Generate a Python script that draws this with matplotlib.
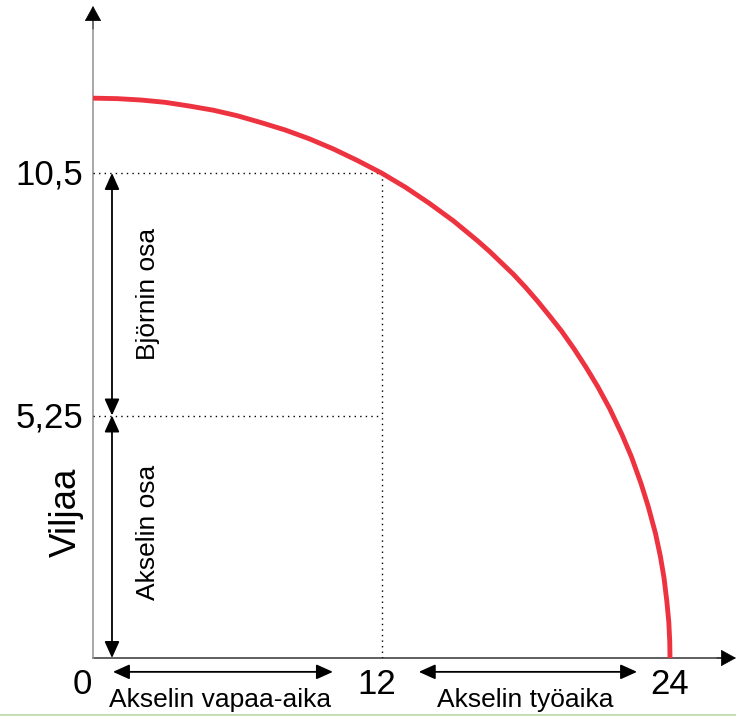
"""Production possibility curve: Akselin vapaa-aika / työaika vs. viljaa."""

import matplotlib

matplotlib.use("Agg")

import matplotlib.pyplot as plt
from matplotlib.lines import Line2D

# Curve (hours of work time, grain)
curve_x = [0, 1, 2, 3, 4, 5, 6, 7, 8, 9, 10, 11, 12, 13, 14, 15, 16, 16.5,
           17, 17.5, 18, 18.5, 19, 19.5, 20, 20.5, 21, 21.5, 22, 22.4, 22.8,
           23.1, 23.4, 23.6, 23.75, 23.87, 23.95, 23.99, 24]
curve_y = [12.12, 12.11, 12.08, 12.03, 11.95, 11.86, 11.74, 11.59, 11.43,
           11.24, 11.02, 10.77, 10.5, 10.19, 9.84, 9.46, 9.03, 8.80, 8.55,
           8.30, 8.02, 7.72, 7.40, 7.07, 6.70, 6.30, 5.87, 5.39, 4.84, 4.35,
           3.77, 3.27, 2.69, 2.20, 1.74, 1.22, 0.78, 0.35, 0]

x_ticks = [0, 12, 24]
x_tick_labels = ["0", "12", "24"]
y_ticks = [5.25, 10.5]
y_tick_labels = ["5,25", "10,5"]

x_span_labels = ["Akselin vapaa-aika", "Akselin työaika"]
x_spans = [(0.83, 9.98), (13.55, 22.63)]
y_span_labels = ["Akselin osa", "Björnin osa"]
y_spans = [(0, 5.25), (5.25, 10.5)]

RED = "#ee3340"

plt.rcParams["font.family"] = ["Liberation Sans", "DejaVu Sans"]

W, H = 736, 716
figure = plt.figure(figsize=(W / 100, H / 100), dpi=100)

x0_px, x_end_px = 93, 736
y0_px, y_top_px = 658, 6
px_per_x = (670 - 93) / 24
px_per_y = (658 - 173) / 10.5

axis = figure.add_axes(
    [x0_px / W, 1 - y0_px / H, (x_end_px - x0_px) / W, (y0_px - y_top_px) / H]
)
axis.set_xlim(0, (x_end_px - x0_px) / px_per_x)
axis.set_ylim(0, (y0_px - y_top_px) / px_per_y)
axis.axis("off")

xmax = axis.get_xlim()[1]
ymax = axis.get_ylim()[1]

head_style = dict(arrowstyle="-|>,head_length=1.0,head_width=0.55",
                  color="black", lw=0.5, shrinkA=0, shrinkB=0,
                  mutation_scale=10)

# axes with arrow heads
axis.plot([0, xmax - 0.5], [0, 0], color="#444444", lw=1.2, clip_on=False)
axis.plot([0, 0], [0, ymax - 0.3], color="#999999", lw=1.2, clip_on=False)
axis.annotate("", xy=(xmax, 0), xytext=(xmax - 0.8, 0),
              arrowprops=head_style, annotation_clip=False)
axis.annotate("", xy=(0, ymax), xytext=(0, ymax - 0.5),
              arrowprops=head_style, annotation_clip=False)

# dotted guides
for y in y_ticks:
    axis.plot([0, 12], [y, y], color="black", lw=1, ls=(0, (1, 3)))
axis.plot([12, 12], [0, max(y_ticks)], color="black", lw=1, ls=(0, (1, 3)))

# curve
axis.plot(curve_x, curve_y, color=RED, lw=3.5, solid_capstyle="butt",
          solid_joinstyle="round", zorder=5)

# tick labels
for x, label in zip(x_ticks, x_tick_labels):
    shift = -0.45 if x == 0 else (-0.2 if x == 12 else 0)
    axis.text(x + shift, -0.58, label, ha="center", va="center", fontsize=25)
for y, label in zip(y_ticks, y_tick_labels):
    axis.text(-0.4, y - 0.05, label, ha="right", va="center", fontsize=25)

axis.text(-1.1, 3.15, "Viljaa", rotation=90, ha="center", va="center",
          fontsize=26.5)

arrow_style = dict(arrowstyle="<|-|>,head_length=1.0,head_width=0.45",
                   color="black", lw=1.3, shrinkA=0, shrinkB=0,
                   mutation_scale=10)

# horizontal spans under x axis
for (a, b), label in zip(x_spans, x_span_labels):
    axis.annotate("", xy=(b, -0.3), xytext=(a, -0.3), arrowprops=arrow_style,
                  annotation_clip=False)
    axis.text((a + b) / 2 - 0.12, -0.92, label, ha="center", va="center",
              fontsize=19)

# vertical spans
for (a, b), label in zip(y_spans, y_span_labels):
    axis.annotate("", xy=(0.79, b), xytext=(0.79, a), arrowprops=arrow_style,
                  annotation_clip=False)
    center = (a + b) / 2 + (0.1 if a == 0 else 0.0)
    axis.text(2.3, center, label, rotation=90, ha="center", va="center",
              fontsize=19)

# thin strip at the bottom edge of the screenshot
figure.add_artist(Line2D([0, 1], [1.5 / H, 1.5 / H], color="#c5e0b4",
                         lw=1.5, transform=figure.transFigure))

figure.savefig("out.png", dpi=100)
